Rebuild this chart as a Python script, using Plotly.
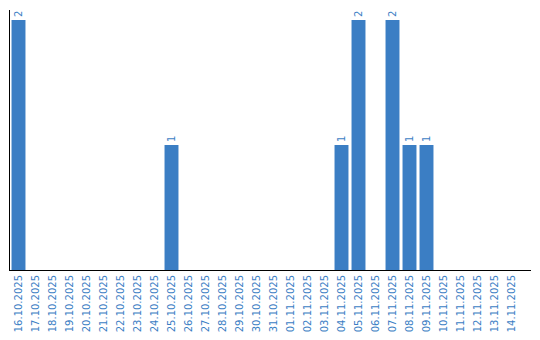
import plotly.graph_objects as go

dates = ["16.10.2025","17.10.2025","18.10.2025","19.10.2025","20.10.2025","21.10.2025",
         "22.10.2025","23.10.2025","24.10.2025","25.10.2025","26.10.2025","27.10.2025",
         "28.10.2025","29.10.2025","30.10.2025","31.10.2025","01.11.2025","02.11.2025",
         "03.11.2025","04.11.2025","05.11.2025","06.11.2025","07.11.2025","08.11.2025",
         "09.11.2025","10.11.2025","11.11.2025","12.11.2025","13.11.2025","14.11.2025"]
counts = [2,0,0,0,0,0,0,0,0,1,0,0,0,0,0,0,0,0,0,1,2,0,2,1,1,0,0,0,0,0]

BLUE = "#3b7ec4"
labels = [str(v) if v > 0 else "" for v in counts]

fig = go.Figure(go.Bar(
    x=list(range(len(dates))), y=counts, marker_color=BLUE, marker_line_width=0,
    text=labels, textposition="outside", textangle=-90,
    textfont=dict(family="DejaVu Sans", size=10, color=BLUE), cliponaxis=False,
))
fig.update_layout(
    width=540, height=340, margin=dict(l=10, r=9, t=10, b=70),
    plot_bgcolor="white", paper_bgcolor="white", bargap=0.18, showlegend=False,
    font=dict(family="DejaVu Sans", size=10, color=BLUE),
)
fig.update_xaxes(
    tickmode="array", tickvals=list(range(len(dates))), ticktext=dates, tickangle=-90,
    range=[-0.5, -0.5 + 521 / 17], showline=True, linecolor="black", linewidth=1,
    showgrid=False, zeroline=False, ticks="", tickfont=dict(family="DejaVu Sans", size=10, color=BLUE),
)
fig.update_yaxes(
    range=[0, 2.08], showline=True, linecolor="black", linewidth=1, showgrid=False,
    zeroline=False, showticklabels=False, ticks="",
)
fig.write_html("out.html")
